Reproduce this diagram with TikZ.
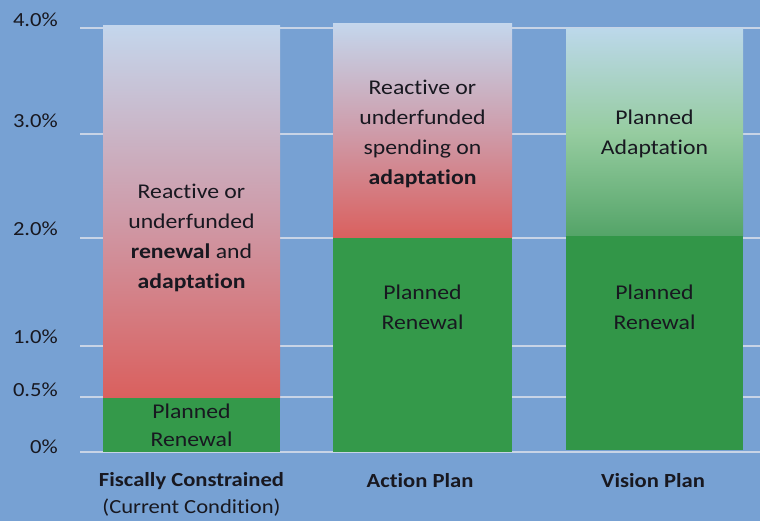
\documentclass[tikz,border=0pt]{standalone}
\usepackage{fontspec}
\setmainfont{Carlito}[Ligatures={NoCommon}]
\newfontfamily\wide{Carlito}[FakeStretch=1.13,Ligatures={NoCommon}]
\definecolor{bg}{RGB}{119,161,211}
\definecolor{gridc}{RGB}{200,212,230}
\definecolor{grn}{RGB}{52,153,74}
\definecolor{grn2}{RGB}{50,150,72}
\definecolor{redb}{RGB}{218,96,94}
\definecolor{redm}{RGB}{206,156,170}
\definecolor{topc}{RGB}{196,214,236}
\definecolor{gtop}{RGB}{188,216,234}
\definecolor{gmid}{RGB}{150,204,160}
\definecolor{gbot}{RGB}{84,164,104}
\definecolor{txt}{RGB}{24,24,32}
\begin{document}
\begin{tikzpicture}[x=1pt,y=-1pt,
  gridline/.style={draw=gridc,line width=1.2pt},
  ylab/.style={anchor=east,text=txt,font=\wide\fontsize{20}{24}\selectfont,inner sep=0pt},
  bartext/.style={align=center,text=txt,font=\wide\fontsize{21}{30}\selectfont,inner sep=0pt},
  cattext/.style={align=center,text=txt,font=\wide\fontsize{20}{27}\selectfont,inner sep=0pt}]
\fill[bg] (0,0) rectangle (760,521);
\useasboundingbox (0,0) rectangle (760,521);
% gridlines
\foreach \yy in {28,134,238,346,397,452}
  \draw[gridline] (80,\yy) -- (760,\yy);
% y labels
\node[ylab] (l4) at (58,20) {4.0\%};
\node[ylab] (l3) at (58,121) {3.0\%};
\node[ylab] (l2) at (58,229) {2.0\%};
\node[ylab] (l1) at (58,337) {1.0\%};
\node[ylab] (l05) at (58,390) {0.5\%};
\node[ylab] (l0) at (58,447) {0\%};
% bar 1
\fill[grn] (103,397) rectangle (280,452);
\shade[top color=topc,bottom color=redb,middle color=redm] (103,26) rectangle (280,397);
% bar 2
\fill[grn] (333,238) rectangle (512,452);
\shade[top color=topc,bottom color=redb,middle color=redm] (333,24) rectangle (512,238);
% bar 3
\fill[grn2] (566,236) rectangle (743,450);
\shade[top color=gtop,bottom color=gbot,middle color=gmid] (566,29) rectangle (743,236);
% bar texts
\node[bartext] (t1) at (191.5,238) {Reactive or\\underfunded\\\textbf{renewal} and\\\textbf{adaptation}};
\node[bartext] (t1b) at (191.5,425) {Planned\\[-2pt]Renewal};
\node[bartext] (t2) at (422.5,134) {Reactive or\\underfunded\\spending on\\\textbf{adaptation}};
\node[bartext] (t2b) at (422.5,307) {Planned\\Renewal};
\node[bartext] (t3) at (654.5,134) {Planned\\Adaptation};
\node[bartext] (t3b) at (654.5,307) {Planned\\Renewal};
% categories
\node[cattext] (c1) at (191.5,494) {\textbf{Fiscally Constrained}\\(Current Condition)};
\node[cattext,anchor=center] (c2) at (420,481) {\textbf{Action Plan}};
\node[cattext,anchor=center] (c3) at (653,481) {\textbf{Vision Plan}};
\end{tikzpicture}
\end{document}
